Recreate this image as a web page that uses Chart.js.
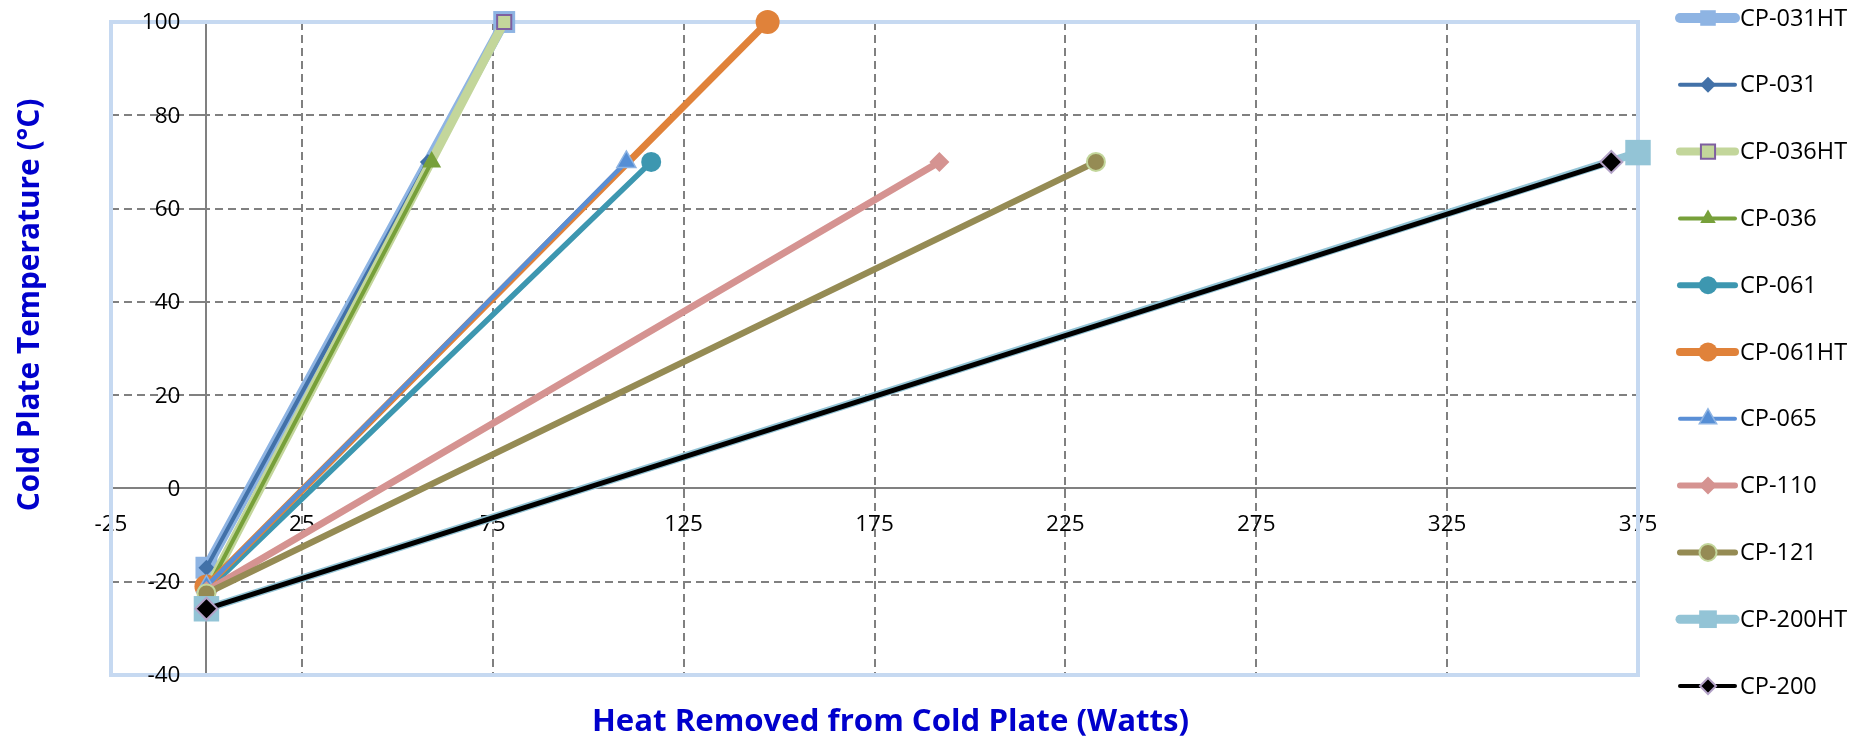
<!DOCTYPE html>
<html>
<head>
<meta charset="utf-8">
<title>Cold Plate Temperature vs Heat Removed</title>
<script src="https://cdn.jsdelivr.net/npm/chart.js@4.4.1/dist/chart.umd.min.js"></script>
<style>
  html, body { margin: 0; padding: 0; background: #fff; }
  #wrap { width: 1864px; height: 739px; position: relative; }
</style>
</head>
<body>
<div id="wrap"><canvas id="plateChart"></canvas></div>
<script>
// Series (two points per cold plate)
const names = ['CP-031HT', 'CP-031', 'CP-036HT', 'CP-036', 'CP-061', 'CP-061HT', 'CP-065', 'CP-110', 'CP-121', 'CP-200HT', 'CP-200'];
const heatStart = [0, 0, 0, 0, 0, 0, 0, 0, 0, 0, 0];
const tempStart = [-17, -17, -22, -22, -22, -21, -21, -22, -22.5, -25.8, -25.8];
const heatEnd = [78, 58, 78, 59, 116.5, 147, 110, 192, 233, 375, 368];
const tempEnd = [100, 70, 100, 70, 70, 100, 70, 70, 70, 72, 70];

const xTicks = { min: -25, max: 375, step: 50 };
const yTicks = { min: -40, max: 100, step: 20 };

const xTitle = 'Heat Removed from Cold Plate (Watts)';
const yTitle = 'Cold Plate Temperature (°C)';

// Styles
const lineColors = ['#8EB4E3', '#4271A8', '#C3D69B', '#77A03A', '#3D97B0', '#E0823A', '#5A8FD6', '#D59391', '#958B54', '#93C4D6', '#000000'];
const lineWidths = [10, 4, 9, 4, 5.5, 7, 4.5, 7, 6.5, 8, 5];
const markerStyles = ['rect', 'rectRot', 'rect', 'triangle', 'circle', 'circle', 'triangle', 'rectRot', 'circle', 'rect', 'rectRot'];
const markerRadii = [15.5, 8, 10, 11, 10, 12, 11, 10, 9, 18, 11];
const markerFill = ['#8EB4E3', '#4271A8', '#C3D69B', '#77A03A', '#3D97B0', '#E0823A', '#558ED5', '#D59391', '#958B54', '#93C4D6', '#000000'];
const markerEdge = ['#8EB4E3', '#4271A8', '#7E5FA0', '#77A03A', '#3D97B0', '#E0823A', '#8EB4E3', '#D59391', '#C3D69B', '#93C4D6', '#B3A2C7'];
const markerEdgeWidths = [0, 0, 2, 0, 0, 0, 1.5, 0, 2, 0, 2];
const legendLineWidths = [10, 4, 8, 4, 6, 8, 4, 6, 6, 9, 4];
const legendRadii = [11, 8, 10, 9, 9, 9.5, 10, 9, 8.5, 12.5, 8];

const textFont = '"Open Sans", Lato, sans-serif';
Chart.defaults.font.family = textFont;
Chart.defaults.color = '#000';

// font size that makes a title as wide as in the original
function fitFont(ctx, text, width) {
    ctx.font = 'bold 100px ' + textFont;
    return 100 * width / ctx.measureText(text).width;
}

// light blue frame round the plot area + y tick labels left of the crossing axis
const plotFrame = {
    id: 'plotFrame',
    beforeDatasetsDraw(chart) {
        const { ctx, chartArea: a, scales } = chart;
        ctx.save();
        ctx.strokeStyle = '#C6D9F1';
        ctx.lineWidth = 4;
        ctx.strokeRect(a.left, a.top, a.right - a.left, a.bottom - a.top);

        const axisX = scales.x.getPixelForValue(0);
        ctx.fillStyle = '#000';
        ctx.font = '22.5px ' + textFont;
        ctx.textAlign = 'right';
        ctx.textBaseline = 'middle';
        scales.y.ticks.forEach(t => {
            ctx.fillText(String(t.value), axisX - 26, scales.y.getPixelForValue(t.value) + 1);
        });
        ctx.restore();
    }
};

// axis titles and the side legend (line + marker like the spreadsheet one)
const sideDecor = {
    id: 'sideDecor',
    afterDraw(chart) {
        const { ctx, chartArea: a } = chart;
        ctx.save();
        ctx.fillStyle = '#0000CC';
        ctx.textAlign = 'center';
        ctx.textBaseline = 'middle';
        ctx.font = 'bold ' + fitFont(ctx, xTitle, 597).toFixed(1) + 'px ' + textFont;
        ctx.fillText(xTitle, (a.left + a.right) / 2 + 16, a.bottom + 47);
        ctx.font = 'bold ' + fitFont(ctx, yTitle, 413).toFixed(1) + 'px ' + textFont;
        ctx.translate(31, 305);
        ctx.rotate(-Math.PI / 2);
        ctx.fillText(yTitle, 0, 0);
        ctx.restore();

        ctx.save();
        names.forEach((name, i) => {
            const cy = 18 + i * 66.8;
            ctx.lineCap = 'round';
            ctx.strokeStyle = lineColors[i];
            ctx.lineWidth = legendLineWidths[i];
            ctx.beginPath();
            ctx.moveTo(1680, cy);
            ctx.lineTo(1735, cy);
            ctx.stroke();

            ctx.fillStyle = markerFill[i];
            ctx.strokeStyle = markerEdge[i];
            ctx.lineWidth = markerEdgeWidths[i];
            Chart.helpers.drawPoint(ctx, {
                pointStyle: markerStyles[i],
                radius: legendRadii[i],
                rotation: 0,
                borderWidth: markerEdgeWidths[i]
            }, 1708, cy);

            ctx.fillStyle = '#000';
            ctx.font = '23.5px ' + textFont;
            ctx.textAlign = 'left';
            ctx.textBaseline = 'middle';
            ctx.fillText(name, 1740, cy + 1);
        });
        ctx.restore();
    }
};

const datasets = names.map((name, i) => ({
    label: name,
    data: [
        { x: heatStart[i], y: tempStart[i] },
        { x: heatEnd[i], y: tempEnd[i] }
    ],
    showLine: true,
    borderColor: lineColors[i],
    borderWidth: lineWidths[i],
    borderCapStyle: 'round',
    backgroundColor: markerFill[i],
    pointBackgroundColor: markerFill[i],
    pointBorderColor: markerEdge[i],
    pointBorderWidth: markerEdgeWidths[i],
    pointStyle: markerStyles[i],
    pointRadius: markerRadii[i],
    pointHoverRadius: markerRadii[i],
    clip: false,
    order: names.length - i   // later series on top, as in the original
}));

const gridStyle = {
    color: '#808080',
    lineWidth: 2,
    tickLength: 8,
    tickColor: '#808080',
    tickWidth: 2,
    tickBorderDash: []
};

new Chart(document.getElementById('plateChart'), {
    type: 'scatter',
    data: { datasets },
    plugins: [plotFrame, sideDecor],
    options: {
        responsive: true,
        maintainAspectRatio: false,
        animation: false,
        layout: { padding: { left: 111, right: 226, top: 22, bottom: 64 } },
        plugins: {
            legend: { display: false },
            tooltip: { enabled: false }
        },
        scales: {
            x: {
                type: 'linear',
                min: xTicks.min,
                max: xTicks.max,
                position: { y: 0 },
                ticks: { stepSize: xTicks.step, font: { size: 22.5 }, padding: 15, maxRotation: 0, autoSkip: false },
                grid: gridStyle,
                border: { color: '#808080', width: 2, dash: [8, 5] }
            },
            y: {
                type: 'linear',
                min: yTicks.min,
                max: yTicks.max,
                position: { x: 0 },
                // labels are drawn by plotFrame so they sit left of the tick marks
                ticks: { stepSize: yTicks.step, display: false },
                grid: gridStyle,
                border: { color: '#808080', width: 2, dash: [8, 5] }
            }
        }
    }
});
</script>
</body>
</html>
